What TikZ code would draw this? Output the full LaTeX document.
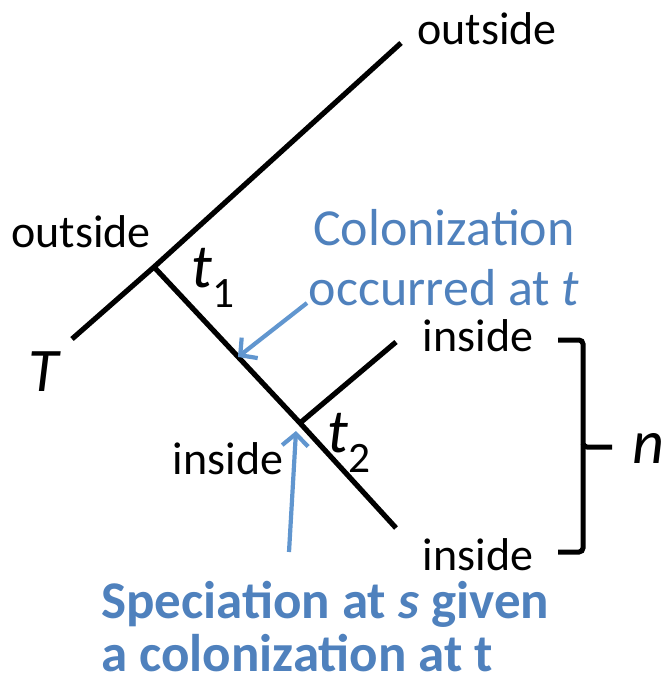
\documentclass[tikz,border=0pt]{standalone}
\usepackage{fontspec}
\setmainfont{Carlito}
\usetikzlibrary{arrows.meta,positioning}
\definecolor{colblue}{HTML}{4F81BD}
\definecolor{arrblue}{HTML}{6196CF}
\tikzset{
  treeline/.style={line width=5.2pt,line cap=butt},
  tiplabel/.style={inner sep=0pt,font=\fontsize{46}{50}\selectfont},
  timelabel/.style={inner sep=0pt,font=\fontsize{62}{66}\selectfont},
  notelabel/.style={inner sep=0pt,text=colblue,align=left,font=\fontsize{52}{60}\selectfont},
  notearrow/.style={arrblue,line width=4.2pt,-{Straight Barb[length=12pt,width=26pt,line width=4.2pt]}},
}
\begin{document}
\begin{tikzpicture}[x=1pt,y=-1pt]
  \useasboundingbox (0,0) rectangle (663,684);
  % tree
  \coordinate (root) at (72,339);
  \coordinate (ta) at (154,267);
  \coordinate (tb) at (300,423);
  \coordinate (outtop) at (401,43);
  \coordinate (inup) at (396,342);
  \coordinate (indown) at (396,528);
  \draw[treeline] (root) -- (ta) -- (outtop);
  \draw[treeline] (ta) -- (tb) -- (indown);
  \draw[treeline] (tb) -- (inup);
  % tip labels
  \node[tiplabel] (outa) at (487,29) {outside};
  \node[tiplabel] (outb) at (81,232) {outside};
  \node[tiplabel] (insa) at (478,336) {inside};
  \node[tiplabel] (insb) at (478,555) {inside};
  \node[tiplabel] (insc) at (228,459) {inside};
  % times
  \node[timelabel] (lT) at (44,372) {\itshape T};
  \node[timelabel] (lta) at (213,278) {\itshape t\textsubscript{\upshape 1}};
  \node[timelabel] (ltb) at (349,443) {\itshape t\textsubscript{\upshape 2}};
  \node[timelabel] (ln) at (648,448) {\itshape n};
  % brace
  \draw[line width=5pt,rounded corners=4pt] (558,340) -- (583,340) -- (583,447) -- (612,447);
  \draw[line width=5pt,rounded corners=4pt] (583,444) -- (583,552) -- (558,552);
  % notes
  \node[notelabel,align=center] (col) at (444,258) {Colonization\\occurred at \textit{t}};
  \node[notelabel,anchor=west,font=\fontsize{53}{53}\selectfont\bfseries] (spec) at (101,627) {Speciation at \textit{s} given\\a colonization at t};
  \coordinate (cola) at (307,303);
  \coordinate (colb) at (238,357);
  \coordinate (speca) at (289,552);
  \coordinate (specb) at (296,431);
  \draw[notearrow] (cola) -- (colb);
  \draw[notearrow] (speca) -- (specb);
\end{tikzpicture}
\end{document}
